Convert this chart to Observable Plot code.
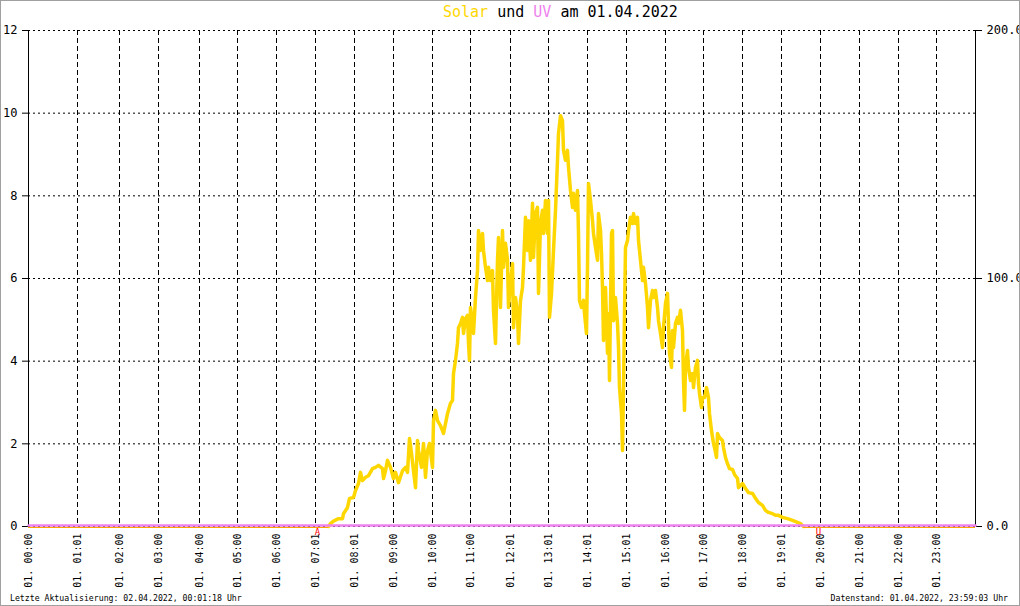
<!DOCTYPE html>
<html><head><meta charset="utf-8">
<script src="https://cdn.jsdelivr.net/npm/d3@7"></script>
<script src="https://cdn.jsdelivr.net/npm/@observablehq/plot@0.6"></script>
<style>
html,body{margin:0;padding:0;background:#fff;overflow:hidden}
#wrap{position:relative;width:1020px;height:606px;overflow:hidden;font-family:"DejaVu Sans Mono",monospace;color:#000}
#chart{position:absolute;left:0;top:0}
#title{position:absolute;left:443px;top:2px;font-size:15px;white-space:pre;line-height:20px}
.foot{position:absolute;top:592px;font-size:8.2px;white-space:pre;line-height:12px}
#border{position:absolute;left:0;top:0;width:1018px;height:604px;border:1px solid #a0a0a0;pointer-events:none}
</style></head>
<body>
<div id="wrap">
  <div id="chart"></div>
  <div id="title"></div>
  <div class="foot" id="footL"></div>
  <div class="foot" id="footR"></div>
  <div id="border"></div>
</div>
<script>
// ---- data ----
const titleParts = ["Solar", " und ", "UV", " am 01.04.2022"];
const footLeft = "Letzte Aktualisierung: 02.04.2022, 00:01:18 Uhr";
const footRight = "Datenstand: 01.04.2022, 23:59:03 Uhr";

// x = sample index of the day's records
const xDomain = [0, 947];
const tickIdx = [0,49,91,130,171,209,248,287,326,365,404,442,482,520,559,598,637,675,714,753,792,831,870,908];
const tickLabels = ["01. 00:00","01. 01:01","01. 02:00","01. 03:00","01. 04:00","01. 05:00","01. 06:00","01. 07:01","01. 08:01","01. 09:00","01. 10:00","01. 11:00","01. 12:01","01. 13:01","01. 14:01","01. 15:01","01. 16:00","01. 17:00","01. 18:00","01. 19:01","01. 20:00","01. 21:00","01. 22:00","01. 23:00"];

const leftTicks = [0,2,4,6,8,10,12];
const uvAxisTicks = [0,100,200];
const uvAxisMax = 200;

const solarIdx = [0,300,302,305,310,314,315,319,321,325,327,330,332,334,337,340,344,347,350,354,355,357,359,362,365,367,370,374,377,379,381,383,385,387,389,390,393,395,397,399,401,404,405,407,409,412,415,417,419,422,424,425,427,429,430,432,434,435,437,439,440,441,442,444,445,447,449,450,452,454,455,457,459,460,462,464,465,467,469,470,472,474,475,477,479,480,482,484,485,487,489,490,492,494,495,497,499,500,502,504,505,507,509,510,512,514,515,517,519,520,521,523,525,527,529,530,532,534,535,537,539,540,542,544,545,547,549,550,551,553,555,556,558,559,560,562,564,565,567,569,570,572,573,574,575,577,579,580,581,583,584,585,587,589,590,591,593,594,595,596,597,599,600,602,604,605,607,609,610,612,614,615,617,619,620,622,624,625,627,629,630,632,634,635,637,639,640,641,643,644,645,647,649,650,652,654,655,656,657,659,660,662,664,665,667,669,670,671,673,674,676,678,680,681,683,685,686,688,689,691,694,695,697,699,701,704,706,709,710,714,717,720,724,727,730,734,737,740,744,747,750,754,759,764,769,772,775,947];
const solarVal = [0,0,0.07,0.13,0.19,0.19,0.31,0.46,0.68,0.70,0.87,1.04,1.31,1.11,1.19,1.23,1.40,1.43,1.48,1.40,1.16,1.35,1.60,1.43,1.16,1.31,1.06,1.35,1.43,1.31,2.13,1.77,1.35,0.94,2.08,1.84,1.43,2.01,1.19,1.84,2.01,1.43,2.56,2.81,2.56,2.44,2.25,2.49,2.73,2.98,3.05,3.70,4.02,4.43,4.81,4.91,5.06,4.67,5.03,5.11,4.43,4.02,5.30,4.98,4.67,5.54,6.19,7.16,6.68,7.09,6.68,6.27,5.95,6.27,5.95,6.19,5.23,4.43,6.44,6.99,5.30,7.16,6.27,6.85,6.44,5.30,5.88,6.36,4.81,5.54,5.15,4.43,5.47,5.78,6.27,7.48,6.68,7.40,6.44,7.82,6.51,7.57,7.72,5.64,7.33,7.65,7.09,7.89,7.09,7.89,5.06,5.64,6.68,7.65,8.86,9.51,9.94,9.82,9.10,8.86,9.10,8.69,8.13,7.72,8.06,7.65,8.13,7.09,5.47,5.30,5.47,5.15,4.67,6.27,8.30,7.89,7.40,7.09,6.75,6.44,7.57,7.16,6.61,5.78,4.50,5.78,4.19,5.15,3.53,7.09,7.16,4.98,5.54,4.91,4.33,3.36,2.73,1.84,3.29,5.15,6.75,6.92,7.16,7.48,7.33,7.57,7.33,7.48,6.92,6.44,5.95,6.27,5.88,5.30,4.81,5.47,5.71,5.54,5.71,5.30,4.98,4.67,4.33,4.81,5.40,5.64,4.91,4.19,3.85,4.74,4.33,4.91,5.06,4.91,5.23,4.74,3.53,2.81,3.85,4.26,3.85,3.53,3.70,3.36,3.85,4.02,3.46,3.22,2.88,3.12,3.12,3.36,3.12,2.73,2.32,2.01,1.91,1.67,2.25,2.15,2.08,1.91,1.67,1.52,1.40,1.38,1.26,1.16,0.94,1.04,0.92,0.82,0.80,0.68,0.58,0.51,0.39,0.34,0.31,0.27,0.27,0.22,0.19,0.15,0.10,0.07,0,0];

const uvIdx = [0, 300, 775, 947];
const uvVal = [0, 0, 0, 0];

const markerIdx = [289, 790];
const markerLabels = ["A", "U"];

// ---- build ----
const yMax = leftTicks[leftTicks.length - 1];
const labelMap = new Map(tickIdx.map((t, i) => [t, tickLabels[i]]));
const solar = solarIdx.map((x, i) => ({x, v: solarVal[i]}));
const uv = uvIdx.map((x, i) => ({x, v: uvVal[i]}));
const markers = markerIdx.map((x, i) => ({x, t: markerLabels[i]}));

const firstPos = solar.findIndex(d => d.v > 0);
let lastPos = solar.length - 1; while (solar[lastPos].v <= 0) lastPos--;
const activeSolar = solar.slice(firstPos - 1, lastPos + 2);
const zeroSegs = [
  {x1: solar[0].x, x2: solar[firstPos - 1].x},
  {x1: solar[lastPos + 1].x, x2: solar[solar.length - 1].x}
];

const font = "DejaVu Sans Mono";
const chart = Plot.plot({
  width: 1020, height: 606,
  marginTop: 30, marginBottom: 80, marginLeft: 28, marginRight: 45,
  style: {fontFamily: font, background: "transparent", color: "black", overflow: "visible"},
  x: {domain: xDomain},
  y: {domain: [0, yMax]},
  marks: [
    Plot.gridY(leftTicks, {stroke: "black", strokeOpacity: 1, strokeDasharray: "2,3"}),
    Plot.gridX(tickIdx, {stroke: "black", strokeOpacity: 1, strokeDasharray: "5,3"}),
    Plot.ruleX(xDomain, {stroke: "black", strokeWidth: 1}),
    Plot.axisY(leftTicks, {anchor: "left", tickSize: 6, tickPadding: 5, fontSize: 12, label: null, fontFamily: font}),
    Plot.axisY(uvAxisTicks.map(v => v * yMax / uvAxisMax), {anchor: "right", tickSize: 6, tickPadding: 5, fontSize: 12, label: null,
      tickFormat: d => (d * uvAxisMax / yMax).toFixed(1), fontFamily: font}),
    Plot.axisX(tickIdx, {anchor: "bottom", tickSize: 0, tickPadding: 7, tickRotate: -90, fontSize: 10, label: null,
      tickFormat: d => labelMap.get(d), fontFamily: font}),
    Plot.line(activeSolar, {x: "x", y: "v", stroke: "#FFD700", strokeWidth: 3.5, strokeLinejoin: "round"}),
    Plot.ruleY(zeroSegs, {x1: "x1", x2: "x2", y: 0, stroke: "#FFA500", strokeWidth: 1, dy: 1}),
    Plot.line(uv, {x: "x", y: d => d.v * yMax / uvAxisMax, stroke: "#EE82EE", strokeWidth: 2.5, dy: -1}),
    Plot.text(markers, {x: "x", y: 0, text: "t", fill: "red", fontSize: 9, dy: 6, fontFamily: font})
  ]
});
document.getElementById("chart").appendChild(chart);

const colors = {"Solar": "#FFD700", "UV": "#EE82EE"};
const title = document.getElementById("title");
titleParts.forEach(p => {
  const s = document.createElement("span");
  s.textContent = p;
  if (colors[p]) s.style.color = colors[p];
  title.appendChild(s);
});
const fl = document.getElementById("footL");
fl.textContent = footLeft; fl.style.left = "10px";
const fr = document.getElementById("footR");
fr.textContent = footRight; fr.style.right = "12px";
</script>
</body></html>
